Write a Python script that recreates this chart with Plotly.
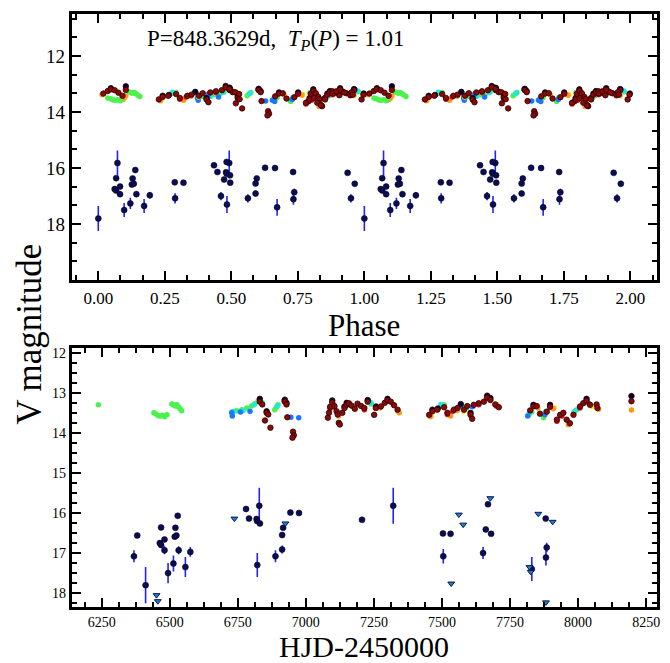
import numpy as np
import plotly.graph_objects as go

# ---------------- data ----------------
PERIOD = 848.3629
T0 = 6411.5

# faint source (detections with errors)
faint_t = [6368.7, 6380.8, 6411.5, 6463.7, 6468.4, 6468.4, 6480.9, 6480.9, 6494.0, 6513.7,
           6518.5, 6521.0, 6524.7, 6529.5, 6533.0, 6557.6, 6575.8, 6780.4, 6791.4, 6819.0,
           6821.0, 6831.5, 6829.0, 6821.7, 6888.5, 6913.0, 6913.0, 6916.7, 6943.3, 6975.0,
           7206.4, 7321.0, 7503.7, 7504.8, 7531.5, 7651.0, 7661.0, 7669.0, 7680.5, 7830.0,
           7881.0, 7884.7, 7882.0]
faint_m = [17.08, 16.56, 17.80, 16.75, 16.36, 16.80, 16.66, 16.93, 17.50, 17.26,
           16.59, 16.37, 16.56, 16.07, 16.93, 17.35, 16.97, 15.90, 16.14, 16.15,
           16.20, 16.26, 15.82, 17.30, 17.08, 16.91, 16.55, 16.37, 15.99, 16.00,
           16.17, 15.82, 16.51, 17.08, 16.52, 17.00, 16.41, 15.78, 16.52, 17.40,
           16.14, 16.86, 17.11]
faint_e = [0.15, 0.03, 0.45, 0.05, 0.03, 0.05, 0.05, 0.10, 0.25, 0.20,
           0.04, 0.03, 0.04, 0.05, 0.10, 0.25, 0.12, 0.03, 0.03, 0.04,
           0.04, 0.04, 0.45, 0.30, 0.15, 0.10, 0.04, 0.04, 0.03, 0.03,
           0.03, 0.45, 0.03, 0.18, 0.03, 0.15, 0.04, 0.05, 0.04, 0.30,
           0.03, 0.12, 0.20]

# faint source (upper limits)
lim_t = [6451.6, 6456.4, 6737.7, 6925.0, 7534.0, 7562.0, 7578.0, 7677.6, 7821.5, 7826.0,
         7854.0, 7906.6, 7882.0]
lim_m = [18.05, 18.20, 16.14, 16.26, 17.76, 16.04, 16.29, 15.63, 17.35, 17.47,
         16.02, 16.22, 18.23]

# bright source, per camera
darkred_t = [6831, 6840, 6850, 6856, 6862, 6870, 6923, 6929, 6932, 6953, 6956, 6951,
             7081, 7085, 7089, 7097, 7105, 7113, 7117, 7121, 7125, 7134, 7142, 7150, 7158,
             7168, 7180, 7190, 7203, 7215, 7227, 7251, 7257, 7276, 7290, 7300, 7312, 7324, 7337,
             7453, 7465, 7483, 7508, 7520, 7544, 7557, 7581, 7593, 7605, 7611, 7617, 7635,
             7654, 7666, 7678, 7696, 7709,
             7824, 7836, 7848, 7860, 7885, 7897, 7922, 7934, 7946, 7958, 7970, 7983, 8007,
             8019, 8031, 8044, 8068, 8071, 8196]
darkred_m = [13.22, 13.29, 13.69, 13.50, 13.54, 13.87, 13.22, 13.29, 13.61, 13.97, 14.06, 14.12,
             13.62, 13.50, 13.35, 13.24, 13.33, 13.46, 13.54, 13.75, 13.79, 13.50, 13.38, 13.30, 13.26,
             13.32, 13.40, 13.27, 13.33, 13.38, 13.22, 13.55, 13.38, 13.34, 13.25, 13.19, 13.22, 13.31, 13.42,
             13.55, 13.46, 13.42, 13.36, 13.50, 13.42, 13.38, 13.42, 13.33, 13.55, 13.65, 13.30, 13.26,
             13.22, 13.12, 13.18, 13.29, 13.36,
             13.44, 13.34, 13.33, 13.52, 13.47, 13.35, 13.67, 13.55, 13.50, 13.67, 13.76, 13.55, 13.34,
             13.26, 13.20, 13.30, 13.29, 13.38, 13.21]
black_t = [6831, 6923, 7097, 7150, 7227, 7300, 7569, 7666, 7678, 8031, 8196, 7465, 7836,
           7897, 7605, 6856, 6929, 7258, 7142, 7485]
black_m = [13.15, 13.17, 13.19, 13.25, 13.18, 13.15, 13.28, 13.07, 13.13, 13.15, 13.08, 13.42, 13.30,
           13.30, 13.50, 13.46, 13.25, 13.34, 13.34, 13.39]
red_t = [7105, 7215, 7520, 7635, 7922, 8007, 7089, 7540, 7700, 7940]
red_m = [13.36, 13.42, 13.54, 13.30, 13.71, 13.38, 13.40, 13.46, 13.32, 13.58]
orange_t = [7337, 7343, 7532, 7909, 7964, 7556, 7700, 7458, 8196, 8075, 7272, 7120, 7852]
orange_m = [13.45, 13.50, 13.58, 13.40, 13.80, 13.44, 13.34, 13.60, 13.43, 13.41, 13.38, 13.58, 13.38]
yellow_t = [7530, 7703, 7912, 7460, 7580, 8050]
yellow_m = [13.55, 13.30, 13.37, 13.57, 13.46, 13.34]
green_t = [6238, 6442, 6450, 6458, 6466, 6474, 6482, 6490, 6508, 6514, 6520, 6526, 6532, 6538, 6544,
           6728, 6746, 6765, 6783, 6801, 6813, 6825, 6886, 6892, 6898, 7160, 7496, 7508, 7818,
           7873, 7995, 7240, 7590, 7830, 7985]
green_m = [13.30, 13.50, 13.53, 13.57, 13.58, 13.56, 13.60, 13.55, 13.28, 13.30, 13.33, 13.30, 13.35, 13.40, 13.45,
           13.48, 13.45, 13.42, 13.38, 13.33, 13.27, 13.20, 13.42, 13.36, 13.30, 13.30, 13.33, 13.30, 13.56,
           13.62, 13.42, 13.28, 13.38, 13.48, 13.48]
cyan_t = [6735, 6770, 6810, 6895, 7239, 7496, 7820, 7880, 7990, 7160, 7575, 6840]
cyan_m = [13.46, 13.44, 13.30, 13.33, 13.25, 13.29, 13.52, 13.48, 13.45, 13.27, 13.35, 13.25]
blue_t = [6728, 6730, 6760, 6795, 6945, 6974, 7569, 7230, 7815, 7878, 8040, 7612, 6920]
blue_m = [13.50, 13.58, 13.48, 13.46, 13.61, 13.62, 13.31, 13.20, 13.58, 13.55, 13.27, 13.35, 13.20]

cameras = [
    ("green", green_t, green_m, "#4cf24c", "rgba(0,0,0,0)"),
    ("cyan", cyan_t, cyan_m, "#22e6e0", "rgba(0,0,0,0)"),
    ("blue", blue_t, blue_m, "#1a78ff", "rgba(0,0,0,0)"),
    ("yellow", yellow_t, yellow_m, "#ffe41a", "rgba(0,0,0,0)"),
    ("orange", orange_t, orange_m, "#ff9a10", "rgba(0,0,0,0)"),
    ("red", red_t, red_m, "#e01010", "rgba(0,0,0,0)"),
    ("black", black_t, black_m, "#14001e", "#14001e"),
    ("darkred", darkred_t, darkred_m, "#8a0a0a", "#2a0000"),
]

# ---------------- helpers ----------------
def phase(t):
    return np.mod((np.asarray(t, float) - T0) / PERIOD, 1.0)

def twice(t, m):
    p = phase(t)
    return np.concatenate([p, p + 1]), np.concatenate([m, m])

FONT = "Liberation Serif"
fig = go.Figure()

# bright source
for name, t, m, col, edge in cameras:
    mk = dict(size=5.5, color=col, line=dict(width=0.8, color=edge))
    px, pm = twice(t, m)
    fig.add_trace(go.Scatter(x=px, y=pm, mode="markers", xaxis="x", yaxis="y",
                             marker=mk, showlegend=False, name=name))
    fig.add_trace(go.Scatter(x=t, y=m, mode="markers", xaxis="x2", yaxis="y2",
                             marker=mk, showlegend=False, name=name))

# faint source
fp, fm = twice(faint_t, faint_m)
fe = np.concatenate([faint_e, faint_e])
marker_f = dict(size=6, color="#0c0c50", line=dict(width=0.5, color="#000020"))
err_style = dict(thickness=1.6, width=0, color="#2222ff")
fig.add_trace(go.Scatter(x=fp, y=fm, mode="markers", xaxis="x", yaxis="y",
                         error_y=dict(type="data", array=fe, **err_style),
                         marker=marker_f, showlegend=False))
fig.add_trace(go.Scatter(x=faint_t, y=faint_m, mode="markers", xaxis="x2", yaxis="y2",
                         error_y=dict(type="data", array=faint_e, **err_style),
                         marker=marker_f, showlegend=False))
fig.add_trace(go.Scatter(x=lim_t, y=lim_m, mode="markers", xaxis="x2", yaxis="y2",
                         marker=dict(symbol="triangle-down", size=6, color="#1c7fcf",
                                     line=dict(width=1, color="#0a1a50")),
                         showlegend=False))

W, H = 670, 663
L, R = 72, 660
top_t, top_b = 12, 279
bot_t, bot_b = 347, 607


def axis(domain, anchor, rng, tickvals, ticktext, minor_dtick, minor_tick0, fsize):
    return dict(domain=domain, anchor=anchor, range=rng, tickmode="array",
                tickvals=tickvals, ticktext=ticktext,
                showline=True, linewidth=3, linecolor="black", mirror="allticks",
                ticks="inside", tickwidth=2, tickcolor="black", ticklen=9,
                showgrid=False, zeroline=False,
                tickfont=dict(family=FONT, size=fsize, color="black"),
                minor=dict(ticks="inside", dtick=minor_dtick, tick0=minor_tick0, ticklen=5,
                           tickwidth=2, tickcolor="black", showgrid=False))


phase_ticks = [0.0, 0.25, 0.5, 0.75, 1.0, 1.25, 1.5, 1.75, 2.0]
top_mag_ticks = [12, 14, 16, 18]
hjd_ticks = [6250, 6500, 6750, 7000, 7250, 7500, 7750, 8000, 8250]
bot_mag_ticks = [12, 13, 14, 15, 16, 17, 18]

fig.update_layout(
    width=W, height=H, margin=dict(l=0, r=0, t=0, b=0),
    paper_bgcolor="white", plot_bgcolor="white",
    xaxis=axis([L / W, R / W], "y", [-0.1, 2.1], phase_ticks,
               ["%.2f" % v for v in phase_ticks], 0.25 / 3, 0, 17),
    yaxis=axis([1 - top_b / H, 1 - top_t / H], "x", [20, 10.5], top_mag_ticks,
               [str(v) for v in top_mag_ticks], 2 / 3, 12, 19),
    xaxis2=axis([L / W, R / W], "y2", [6140, 8290], hjd_ticks,
                [str(v) for v in hjd_ticks], 62.5, 6250, 14),
    yaxis2=axis([1 - bot_b / H, 1 - bot_t / H], "x2", [18.35, 11.88], bot_mag_ticks,
                [str(v) for v in bot_mag_ticks], 0.25, 12, 14),
    font=dict(family=FONT, color="black"),
)

fig.add_annotation(text="P=848.3629d,  <i>T</i><sub><i>P</i></sub>(<i>P</i>) = 1.01",
                   xref="paper", yref="paper", x=146 / W, y=1 - 38 / H, xanchor="left", yanchor="middle",
                   showarrow=False, font=dict(family=FONT, size=23, color="black"))
fig.add_annotation(text="Phase", xref="paper", yref="paper", x=(L + R) / 2 / W, y=1 - 324 / H,
                   xanchor="center", yanchor="middle", showarrow=False,
                   font=dict(family=FONT, size=31, color="black"))
fig.add_annotation(text="HJD-2450000", xref="paper", yref="paper", x=(L + R) / 2 / W, y=1 - 646 / H,
                   xanchor="center", yanchor="middle", showarrow=False,
                   font=dict(family=FONT, size=30, color="black"))
fig.add_annotation(text="V magnitude", xref="paper", yref="paper", x=30 / W, y=1 - 333 / H,
                   xanchor="center", yanchor="middle", textangle=-90, showarrow=False,
                   font=dict(family=FONT, size=35, color="black"))

fig.write_html("out.html")
